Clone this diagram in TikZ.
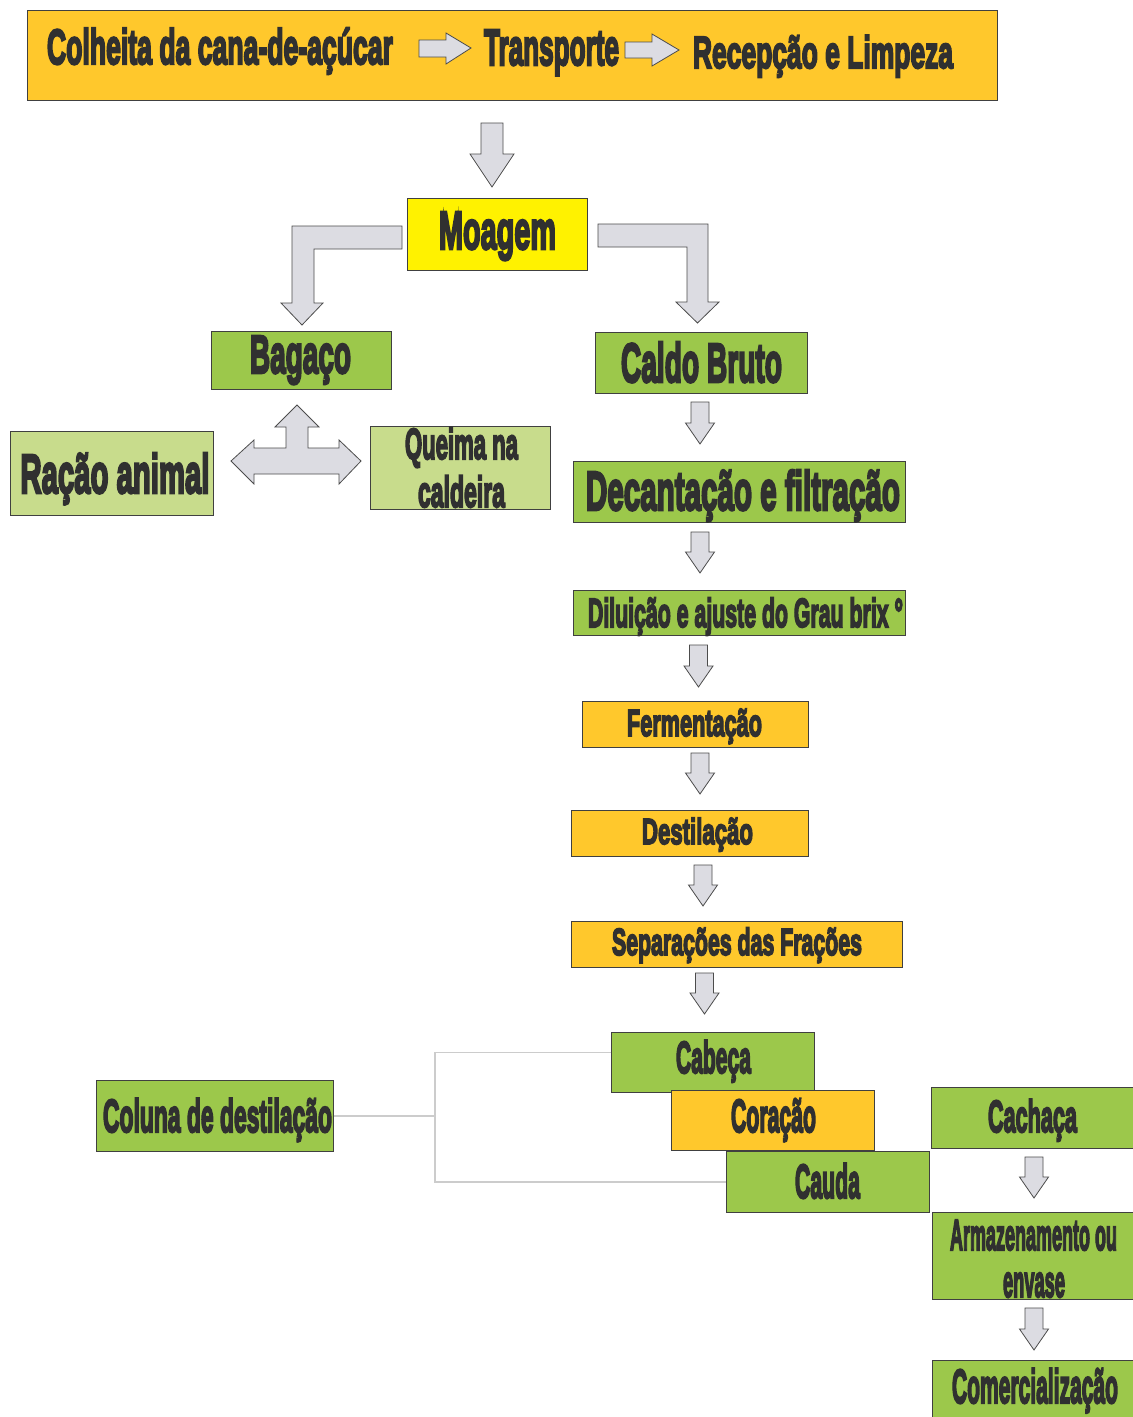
\documentclass[tikz,border=0pt]{standalone}
\usepackage{fontspec}
\usepackage{graphicx}
\newfontfamily\heavy{Liberation Sans}[BoldFeatures={FakeBold=5}]
\definecolor{orng}{HTML}{FFC82C}
\definecolor{yel}{HTML}{FFF200}
\definecolor{grn}{HTML}{9CC84B}
\definecolor{lgrn}{HTML}{C8DC8C}
\definecolor{agray}{HTML}{DCDCE2}
\definecolor{txt}{HTML}{303030}
\newcommand\T[3]{\resizebox{#1pt}{#2pt}{\heavy\bfseries\setbox0=\hbox{#3}\ht0=\fontcharht\font`H\relax\box0}}
\newcommand\bdown[3]{\filldraw[barrow] (#1-9,#2) -- (#1+9,#2) -- (#1+9,#3-21) -- (#1+14.5,#3-21) -- (#1,#3) -- (#1-14.5,#3-21) -- (#1-9,#3-21) -- cycle;}
\begin{document}
\begin{tikzpicture}[x=1pt,y=-1pt,
  box/.style={draw=black!75,line width=0.9pt,inner sep=0pt,anchor=north west,rectangle},
  lbl/.style={anchor=base,inner sep=0pt,text=txt},
  barrow/.style={fill=agray,draw=black!70,line width=0.8pt,line join=miter},
  conn/.style={draw=gray!40,line width=1.1pt}]
\useasboundingbox (0,0) rectangle (1133,1417);
\fill[white] (0,0) rectangle (1133,1417);
% top bar
\node[box,fill=orng,minimum width=970pt,minimum height=90pt] (top) at (27,10) {};
\node[lbl] (tcol) at (220,64) {\T{346}{34}{Colheita da cana-de-açúcar}};
\node[lbl] (ttra) at (551.5,65) {\T{135}{35}{Transporte}};
\node[lbl] (trec) at (823,68) {\T{260}{31}{Recepção e Limpeza}};
\filldraw[barrow] (419,40) -- (446,40) -- (446,33) -- (471,48) -- (446,64) -- (446,57) -- (419,57) -- cycle;
\filldraw[barrow] (625,42) -- (652,42) -- (652,34) -- (679,50) -- (652,66) -- (652,58) -- (625,58) -- cycle;
% big down arrow
\filldraw[barrow] (481,123) -- (503,123) -- (503,154) -- (514,154) -- (492,187) -- (470,154) -- (481,154) -- cycle;
% Moagem
\node[box,fill=yel,minimum width=180pt,minimum height=72pt] (moagem) at (407,198) {};
\node[lbl] (tmoa) at (497.5,249) {\T{117}{37}{Moagem}};
% bent arrows
\filldraw[barrow] (402,226) -- (292,226) -- (292,303) -- (281,303) -- (302,325) -- (323,303) -- (314,303) -- (314,249) -- (402,249) -- cycle;
\filldraw[barrow] (598,224) -- (708,224) -- (708,302) -- (719,302) -- (697.5,323) -- (676,302) -- (687,302) -- (687,247) -- (598,247) -- cycle;
% Bagaco / Caldo
\node[box,fill=grn,minimum width=180pt,minimum height=58pt] (bagaco) at (211,331) {};
\node[lbl] (tbag) at (300.5,373) {\T{101}{37}{Bagaço}};
\node[box,fill=grn,minimum width=212pt,minimum height=61pt] (caldo) at (595,332) {};
\node[lbl] (tcal) at (701.5,382) {\T{161}{38}{Caldo Bruto}};
% three-way arrow
\filldraw[barrow] (297,405) -- (319,427) -- (308,427) -- (308,448) -- (339,448) -- (339,440) -- (361,461) -- (339,484) -- (339,474) -- (254,474) -- (254,484) -- (231,461) -- (254,440) -- (254,448) -- (286,448) -- (286,427) -- (275,427) -- cycle;
% Racao / Queima
\node[box,fill=lgrn,minimum width=203pt,minimum height=84pt] (racao) at (10,431) {};
\node[lbl] (trac) at (115,493) {\T{189}{38}{Ração animal}};
\node[box,fill=lgrn,minimum width=180pt,minimum height=83pt] (queima) at (370,426) {};
\node[lbl] (tque1) at (461.5,459) {\T{113}{30}{Queima na}};
\node[lbl] (tque2) at (461.5,507) {\T{87}{30}{caldeira}};
% right column
\bdown{700}{402}{444}
\node[box,fill=grn,minimum width=332pt,minimum height=61pt] (decant) at (573,461) {};
\node[lbl] (tdec) at (743,510) {\T{314}{38}{Decantação e filtração}};
\bdown{700}{532}{573}
\node[box,fill=grn,minimum width=332pt,minimum height=45pt] (dil) at (573,590) {};
\node[lbl] (tdil) at (745.5,627) {\T{315}{28}{Diluição e ajuste do Grau brix °}};
\bdown{698.5}{645}{687}
\node[box,fill=orng,minimum width=226pt,minimum height=46pt] (ferm) at (582,701) {};
\node[lbl] (tfer) at (694.5,736) {\T{135}{26}{Fermentação}};
\bdown{700}{753}{794}
\node[box,fill=orng,minimum width=237pt,minimum height=46pt] (dest) at (571,810) {};
\node[lbl] (tdes) at (697.5,844) {\T{111}{25}{Destilação}};
\bdown{703}{865}{906}
\node[box,fill=orng,minimum width=331pt,minimum height=46pt] (sep) at (571,921) {};
\node[lbl] (tsep) at (737,955) {\T{250}{26}{Separações das Frações}};
\bdown{704.5}{973}{1014}
% fractions
\node[box,fill=grn,minimum width=203pt,minimum height=60pt] (cabeca) at (611,1032) {};
\node[lbl] (tcab) at (713.5,1073) {\T{75}{31}{Cabeça}};
\node[box,fill=orng,minimum width=203pt,minimum height=60pt] (coracao) at (671,1090) {};
\node[lbl] (tcor) at (773.5,1132) {\T{85}{32}{Coração}};
\node[box,fill=grn,minimum width=203pt,minimum height=61pt] (cauda) at (726,1151) {};
\node[lbl] (tcau) at (827.5,1198) {\T{65}{33}{Cauda}};
\node[box,fill=grn,minimum width=237pt,minimum height=71pt] (coluna) at (96,1080) {};
\node[lbl] (tcol2) at (217.5,1132) {\T{229}{32}{Coluna de destilação}};
\coordinate (j) at (435,1118);
\draw[conn] (coluna.east) -- (coluna.east-|j);
\draw[conn] ([yshift=10pt]cabeca.west) -| (j) |- (cauda.west);
% final column
\node[box,fill=grn,minimum width=203pt,minimum height=61pt] (cachaca) at (931,1087) {};
\node[lbl] (tcac) at (1032.5,1132) {\T{89}{31}{Cachaça}};
\bdown{1034}{1157}{1198}
\node[box,fill=grn,minimum width=202pt,minimum height=87pt] (arm) at (932,1212) {};
\node[lbl] (tarm1) at (1033.5,1250) {\T{167}{30}{Armazenamento ou}};
\node[lbl] (tarm2) at (1034,1297) {\T{62}{31}{envase}};
\bdown{1034}{1308}{1350}
\node[box,fill=grn,minimum width=202pt,minimum height=60pt] (com) at (932,1360) {};
\node[lbl] (tcom) at (1035,1403) {\T{166}{33}{Comercialização}};
\end{tikzpicture}
\end{document}
